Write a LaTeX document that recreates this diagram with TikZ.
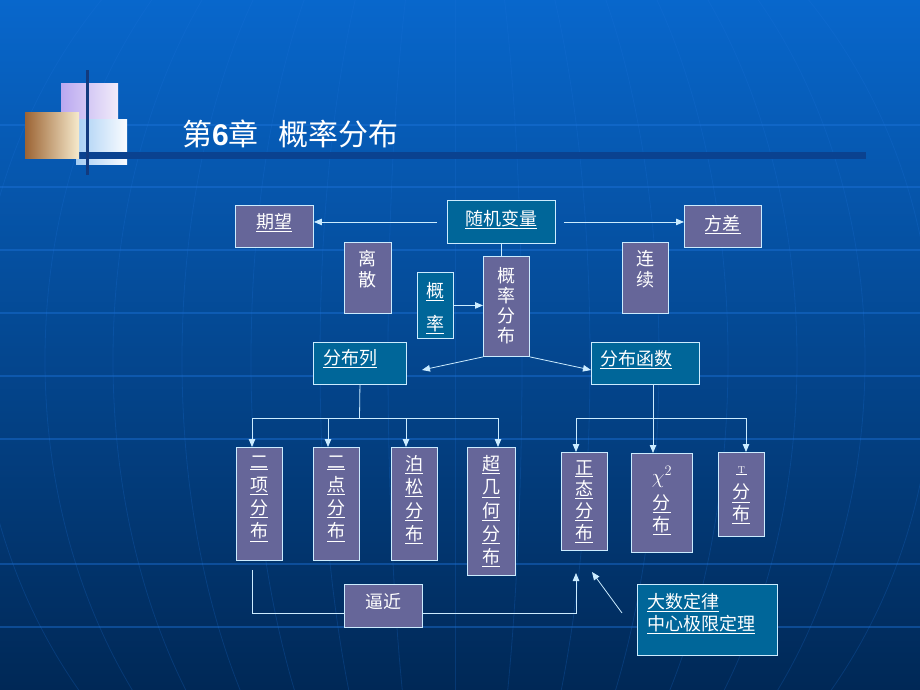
\documentclass[tikz,border=0pt]{standalone}
\usepackage{fontspec}
\newfontfamily\cjk{Noto Sans CJK SC}
\newfontfamily\arialf{Liberation Sans}
\usetikzlibrary{arrows.meta}
\definecolor{purp}{HTML}{666699}
\definecolor{tealb}{HTML}{006699}
\definecolor{edgec}{HTML}{CCECFF}
\definecolor{bgtop}{HTML}{0867CC}
\definecolor{bgmid}{HTML}{0550A6}
\definecolor{bgbot}{HTML}{002856}
\definecolor{gridc}{HTML}{1E74DC}
\definecolor{barc}{HTML}{0A4290}
\definecolor{vlinec}{HTML}{123A7E}
\definecolor{lavL}{HTML}{BAA8F0}
\definecolor{lavR}{HTML}{F2ECFA}
\definecolor{lbL}{HTML}{A6CEF4}
\definecolor{lbR}{HTML}{FAFCFF}
\definecolor{tanL}{HTML}{9C6434}
\definecolor{tanR}{HTML}{F6EACC}
\newcommand\ul[1]{\underline{#1}}
\newcommand\bxc[5]{\parbox[t][#2pt][t]{#1pt}{\fontsize{18}{#4}\selectfont\lineskiplimit=-100pt\centering\vspace*{#3pt}#5\par}}
\newcommand\bxl[6]{\parbox[t][#2pt][t]{#1pt}{\fontsize{18}{#5}\selectfont\lineskiplimit=-100pt\raggedright\leftskip=#4pt\vspace*{#3pt}#6\par}}
\begin{document}
\begin{tikzpicture}[x=1pt,y=-1pt,
  box/.style={draw=edgec,line width=0.9pt,fill=purp,inner sep=0pt,anchor=north west,text=white,font=\cjk},
  tbox/.style={box,fill=tealb},
  link/.style={draw=edgec,line width=0.8pt},
  arr/.style={link,-{Triangle[length=8pt,width=6.5pt]}},
  gridh/.style={draw=gridc,line width=1.3pt,opacity=0.42},
  gridm/.style={draw=gridc,line width=0.8pt,opacity=0.22}]
\useasboundingbox (0,0) rectangle (920,690);
% background
\shade[top color=bgtop,middle color=bgmid,bottom color=bgbot] (0,0) rectangle (920,690);
\begin{scope}
  \clip (0,0) rectangle (920,690);
  \foreach \yy in {125,187,250,313,376,439,564,627}
    \draw[gridh] (0,\yy) -- (920,\yy);
  \foreach \aa in {67,135,204,273,342,410,478}
    \draw[gridm] (455,360) ellipse [x radius=\aa pt, y radius=535pt];
  \draw[gridm] (455,0) -- (455,690);
\end{scope}
% title decoration
\shade[left color=lavL,right color=lavR] (61,84) rectangle (118,140);
\shade[left color=lbL,right color=lbR] (76,120) rectangle (127,164);
\fill[barc] (55,152) rectangle (866,159);
\shade[left color=tanL,right color=tanR] (25,113) rectangle (79,158);
\fill[vlinec] (86,70) rectangle (89,175);
\node[anchor=base west,text=white,inner sep=0pt,font=\cjk\fontsize{30}{30}\selectfont] (title) at (182,146)
  {第{\arialf\bfseries 6}章\hspace{20pt}概率分布};
% boxes
\node[box] (qw) at (235,205) {\bxc{78}{42}{8}{22}{\ul{期望}}};
\node[tbox] (rv) at (447,200) {\bxc{108}{43}{10}{22}{\ul{随机变量}}};
\node[box] (fc) at (684,205) {\bxc{77}{42}{10}{22}{\ul{方差}}};
\node[box] (ls) at (344,242) {\bxc{47}{71}{8}{21}{离\\散}};
\node[box] (lx) at (622,242) {\bxc{46}{71}{8}{21}{连\\续}};
\node[tbox] (gl) at (417,272) {\bxc{36}{66}{10}{33}{\ul{概}\\\ul{率}}};
\node[box] (gf) at (483,256) {\bxc{46}{100}{11}{20}{概\\率\\分\\布}};
\node[tbox] (fbl) at (313,342) {\bxl{93}{42}{7}{10}{22}{\ul{分布列}}};
\node[tbox] (fbh) at (591,342) {\bxl{108}{42}{8}{9}{22}{\ul{分布函数}}};
\node[box] (b1) at (236,447) {\bxc{46}{113}{8}{23.3}{\ul{二}\\\ul{项}\\\ul{分}\\\ul{布}}};
\node[box] (b2) at (313,447) {\bxc{46}{113}{8}{23.3}{\ul{二}\\\ul{点}\\\ul{分}\\\ul{布}}};
\node[box] (b3) at (391,447) {\bxc{46}{113}{8}{23.3}{\ul{泊}\\\ul{松}\\\ul{分}\\\ul{布}}};
\node[box] (b4) at (467,447) {\bxc{48}{128}{8}{23.3}{\ul{超}\\\ul{几}\\\ul{何}\\\ul{分}\\\ul{布}}};
\node[box] (c1) at (561,452) {\bxc{46}{98}{8}{21.7}{\ul{正}\\\ul{态}\\\ul{分}\\\ul{布}}};
\node[box] (c2) at (631,453) {\bxc{61}{99}{13}{22}{{\fontsize{22}{22}\selectfont$\chi^2$}\\[4pt]\ul{分}\\\ul{布}}};
\node[box] (c3) at (718,452) {\bxc{46}{84}{14}{21.7}{{\rmfamily\fontsize{10}{10}\selectfont\ul{\,T\,}}\\[4pt]\ul{分}\\\ul{布}}};
\node[box] (bj) at (344,584) {\bxc{78}{43}{9}{22}{逼近}};
\node[tbox] (dz) at (637,584) {\bxl{140}{71}{9}{10}{22}{\ul{大数定律}\\\ul{中心极限定理}}};
% connectors
\draw[arr] ([xshift=-10pt]rv.west) -- (rv.west -| qw.east);
\draw[arr] ([xshift=8pt]rv.east) -- (rv.east -| fc.west);
\draw[link] (rv.south) -- (gf.north -| rv.south);
\draw[arr] (gl.east) -- (gl.east -| gf.west);
\coordinate (pl) at (422,370);
\coordinate (ph) at (591,370);
\draw[arr] (gf.south west) -- (pl);
\draw[arr] (gf.south east) -- (ph);
% left bus
\coordinate (lt) at (359.5,418);
\coordinate (la) at (252,418);
\coordinate (lb) at (328,418);
\coordinate (lc) at (406,418);
\coordinate (ld) at (498,418);
\draw[link] (fbl.south) -- (lt);
\draw[link] (la) -- (ld);
\draw[arr] (la) -- (la |- b1.north);
\draw[arr] (lb) -- (lb |- b2.north);
\draw[arr] (lc) -- (lc |- b3.north);
\draw[arr] (ld) -- (ld |- b4.north);
% right bus
\coordinate (rt) at (653,418);
\coordinate (ra) at (576,418);
\coordinate (rc) at (746,418);
\draw[link] (rt |- fbh.south) -- (rt);
\draw[link] (ra) -- (rc);
\draw[arr] (ra) -- (ra |- c1.north);
\draw[arr] (rt) -- (rt |- c2.north);
\draw[arr] (rc) -- (rc |- c3.north);
% approximation
\coordinate (q1) at (252,570);
\coordinate (qm) at (252,613);
\coordinate (q2) at (576,573);
\draw[link] (q1) -- (qm) -- (qm -| bj.west);
\draw[arr] (qm -| bj.east) -| (q2);
\coordinate (dzs) at (622,613);
\coordinate (dzt) at (592,572);
\draw[arr] (dzs) -- (dzt);
\end{tikzpicture}
\end{document}
